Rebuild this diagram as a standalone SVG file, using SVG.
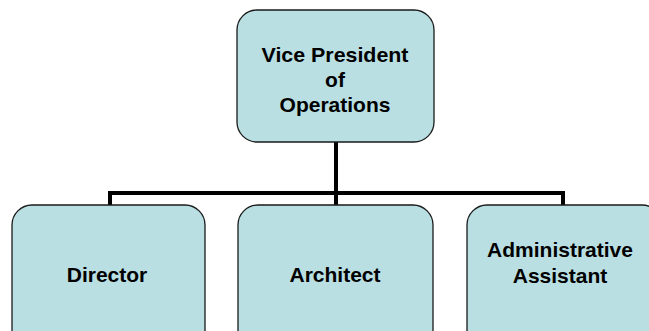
<svg xmlns="http://www.w3.org/2000/svg" width="649" height="331" viewBox="0 0 649 331">
<style>
.box{fill:#B9DFE2;stroke:#1a1a1a;stroke-width:1.3}
.t{font-family:"Liberation Sans",Arial,sans-serif;font-weight:bold;font-size:21px;fill:#000;text-anchor:middle}
.c{fill:none;stroke:#000;stroke-width:4}
</style>
<rect width="649" height="331" fill="#fff"/>
<g id="connectors">
<path class="c" d="M336 142V195M110 205V193H563V205M336 193V205"/>
</g>
<g id="vp">
<rect class="box" x="237" y="10" width="197" height="132" rx="20"/>
<text class="t" x="335" y="62" textLength="147" lengthAdjust="spacingAndGlyphs">Vice President</text>
<text class="t" x="335" y="87">of</text>
<text class="t" x="335" y="112">Operations</text>
</g>
<g id="director">
<rect class="box" x="12" y="205" width="193" height="145" rx="20"/>
<text class="t" x="107" y="282">Director</text>
</g>
<g id="architect">
<rect class="box" x="238" y="205" width="195" height="145" rx="20"/>
<text class="t" x="335" y="282">Architect</text>
</g>
<g id="assistant">
<rect class="box" x="467" y="205" width="195" height="145" rx="20"/>
<text class="t" x="560" y="257">Administrative</text>
<text class="t" x="560" y="283">Assistant</text>
</g>
</svg>
